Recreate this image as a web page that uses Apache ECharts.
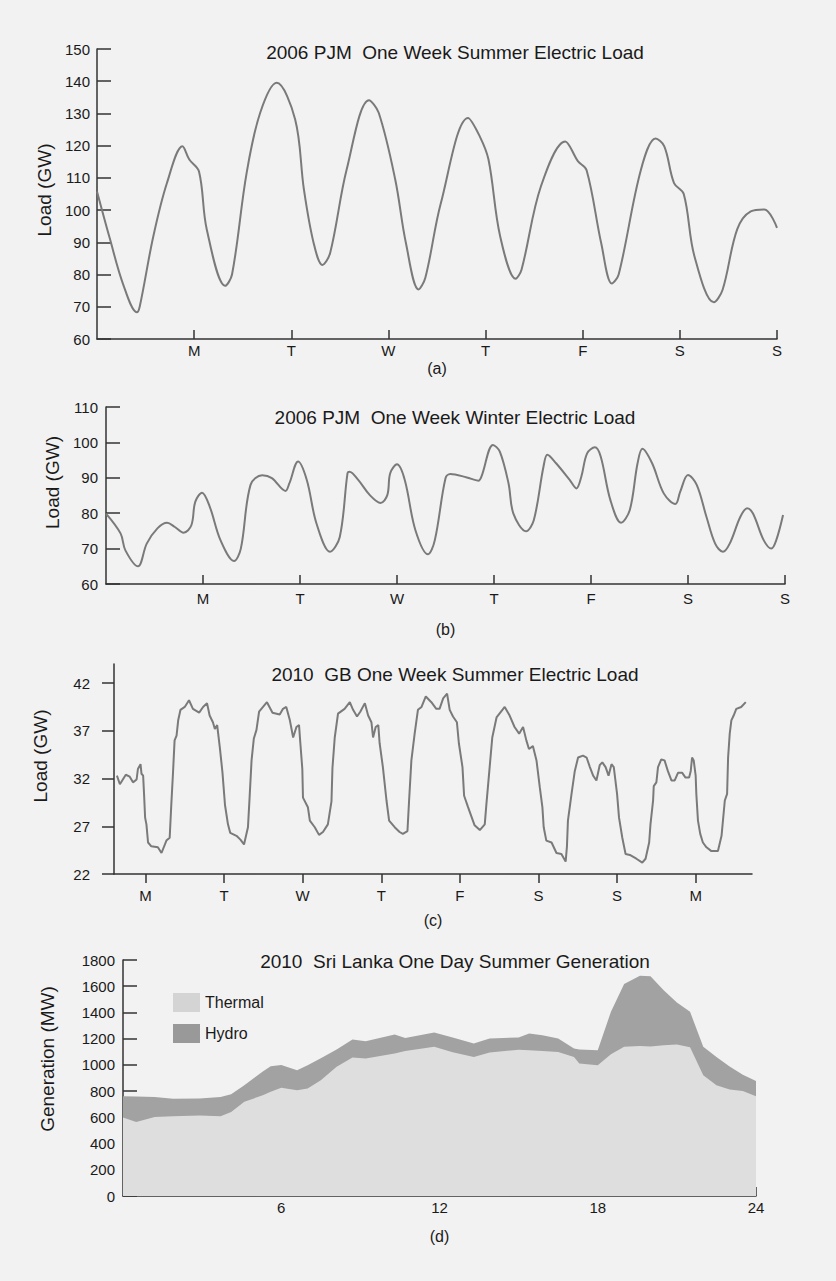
<!DOCTYPE html>
<html>
<head>
<meta charset="utf-8">
<script src="https://cdn.jsdelivr.net/npm/echarts@6/dist/echarts.min.js"></script>
<style>
  html, body { margin: 0; padding: 0; background: #f2f2f2; }
  #main { width: 836px; height: 1281px; }
</style>
</head>
<body>
<div id="main"></div>
<script>
// (a) 2006 PJM summer week, x in days from Sunday 0h
var summerDay = [0.00, 0.13, 0.27, 0.41, 0.44, 0.58, 0.72, 0.88, 0.95, 1.05, 1.13, 1.32, 1.39, 1.54, 1.68, 1.85,
  2.04, 2.13, 2.23, 2.32, 2.40, 2.57, 2.80, 2.90, 3.07, 3.18, 3.31, 3.38, 3.54, 3.82, 3.94, 4.03, 4.15, 4.31,
  4.37, 4.57, 4.82, 4.95, 5.04, 5.19, 5.30, 5.37, 5.60, 5.75, 5.84, 5.94, 6.04, 6.15, 6.35, 6.44, 6.59, 6.73, 6.87, 7.00];
var summerLoad = [105.8, 91.4, 76.9, 68.3, 70.1, 91.9, 108.4, 119.8, 115.7, 112, 94, 76.5, 80, 111.5, 130.2, 139.5,
  128.1, 106.4, 89.8, 83, 86.7, 112.6, 134.1, 130.2, 109.5, 89.8, 75.4, 79, 102.2, 128.6, 122.9, 115.7, 91.9, 78.7,
  81.5, 107.4, 121.3, 115.2, 112.4, 89.8, 77.2, 80, 112.6, 122.2, 119.8, 108.4, 105, 85.7, 71.4, 75.3, 94, 99.6, 100.2, 94.5];

// (b) 2006 PJM winter week
var winterDay = [0.00, 0.15, 0.20, 0.33, 0.42, 0.53, 0.63, 0.71, 0.80, 0.88, 0.92, 0.99, 1.07, 1.18, 1.32, 1.39,
  1.49, 1.61, 1.71, 1.85, 1.89, 1.98, 2.07, 2.17, 2.31, 2.41, 2.49, 2.51, 2.60, 2.72, 2.83, 2.90, 2.93, 3.00,
  3.08, 3.19, 3.32, 3.39, 3.50, 3.55, 3.72, 3.84, 3.87, 3.99, 4.06, 4.15, 4.20, 4.33, 4.41, 4.51, 4.55, 4.64,
  4.78, 4.85, 4.90, 4.96, 5.04, 5.10, 5.20, 5.31, 5.40, 5.48, 5.53, 5.63, 5.75, 5.87, 5.92, 6.00, 6.09, 6.19,
  6.28, 6.36, 6.43, 6.54, 6.61, 6.67, 6.78, 6.86, 6.91, 6.98];
var winterLoad = [79.9, 74.3, 69.5, 65.0, 71.4, 75.7, 77.3, 76.1, 74.5, 76.6, 83.2, 85.8, 81.8, 72.4, 66.5, 70.0,
  88.0, 90.7, 89.9, 86.3, 88.4, 94.6, 89.4, 77.1, 69.1, 73.3, 91.3, 91.7, 89.4, 85.1, 82.9, 85.1, 91.3, 93.8,
  89.4, 75.2, 68.4, 72.4, 89.9, 91.1, 90.1, 89.2, 90.3, 99.3, 97.4, 88.4, 79.9, 74.9, 78.0, 93.1, 96.5, 94.1,
  89.4, 87.0, 90.3, 96.9, 98.6, 96.0, 83.7, 77.3, 80.9, 94.1, 98.2, 94.1, 85.6, 82.6, 86.1, 90.8, 88.0, 79.0,
  71.4, 69.1, 71.4, 79.0, 81.4, 79.9, 72.4, 70.0, 72.4, 79.5];

// (c) 2010 GB summer week, x in hours from Monday 0h
var gbHour = [-8.7, -7.8, -6.0, -4.8, -3.8, -2.7, -2.3, -1.5, -1.2, -0.7, -0.4, -0.1, 0.3, 0.8, 1.8, 3.8, 4.9, 6.4,
  7.4, 7.9, 8.4, 8.9, 9.5, 10.0, 10.7, 12.0, 13.3, 14.5, 16.4, 17.6, 18.8, 19.6, 20.6, 21.2, 21.9, 22.7, 23.5,
  24.3, 25.2, 25.9, 27.8, 29.0, 30.1, 31.3, 31.8, 32.4, 33.1, 33.9, 34.7, 35.9, 37.1, 38.8, 41.0, 42.0, 43.0,
  44.1, 45.1, 46.1, 46.9, 47.3, 47.9, 48.1, 49.6, 50.2, 51.7, 53.0, 54.2, 55.7, 56.8, 57.1, 57.8, 58.8, 60.8,
  62.4, 63.4, 64.6, 65.6, 67.0, 68.0, 69.0, 69.5, 70.3, 71.1, 71.5, 72.5, 73.6, 74.4, 76.1, 77.6, 78.6, 80.0,
  80.5, 81.2, 82.2, 83.2, 84.3, 85.6, 87.3, 88.8, 89.8, 90.9, 92.1, 92.9, 93.9, 95.1, 95.7, 96.8, 97.3, 98.5,
  100.5, 102.1, 103.6, 104.1, 105.1, 105.9, 107.2, 109.7, 111.2, 112.7, 114.1, 115.3, 116.3, 117.1, 118.3,
  119.4, 120.4, 121.2, 121.6, 122.4, 124.0, 125.5, 127.0, 128.3, 128.7, 129.0, 130.1, 131.1, 132.1, 133.6,
  134.7, 135.7, 136.7, 137.7, 138.7, 139.5, 140.5, 141.4, 142.3, 143.0, 144.0, 144.6, 145.6, 146.6, 147.9,
  149.9, 151.7, 152.7, 153.8, 154.2, 155.0, 155.2, 156.0, 156.5, 157.5, 158.5, 159.5, 160.6, 161.6, 162.6,
  163.9, 164.9, 166.0, 166.5, 166.9, 167.4, 168.0, 168.2, 168.7, 169.4, 170.2, 171.3, 172.8, 174.8, 175.9,
  176.9, 177.6, 177.9, 178.4, 178.9, 179.6, 180.4, 181.9, 183.3];
var gbLoad = [32.3, 31.4, 32.4, 32.2, 31.6, 31.9, 33.0, 33.5, 32.5, 32.3, 30.2, 27.9, 27.2, 25.3, 24.9, 24.8, 24.2, 25.5,
  25.8, 29.3, 32.5, 36.0, 36.5, 38.1, 39.2, 39.5, 40.2, 39.3, 38.9, 39.5, 39.9, 38.6, 37.9, 37.2, 37.6, 35.3, 32.7,
  29.2, 27.2, 26.3, 26.0, 25.6, 25.1, 26.9, 30.0, 33.9, 36.2, 37.1, 39.0, 39.5, 40.0, 38.9, 38.7, 39.3, 39.5,
  38.1, 36.3, 37.4, 37.6, 35.7, 33.0, 30.0, 29.0, 27.6, 26.9, 26.1, 26.4, 27.2, 29.6, 33.1, 36.3, 38.8, 39.3,
  40.0, 39.2, 38.5, 39.0, 39.9, 38.6, 37.9, 36.3, 37.4, 37.6, 35.7, 33.2, 29.7, 27.6, 26.9, 26.4, 26.2, 26.5,
  29.7, 33.9, 36.7, 39.2, 39.5, 40.6, 40.0, 39.3, 39.3, 40.4, 40.9, 39.2, 38.5, 37.9, 35.7, 33.2, 30.2, 29.0,
  27.1, 26.6, 27.2, 29.3, 33.2, 36.3, 38.4, 39.5, 38.6, 37.4, 36.7, 37.4, 36.0, 35.1, 35.4,
  33.9, 31.1, 29.0, 26.9, 25.5, 25.3, 24.2, 24.1, 23.3, 24.9, 27.6, 30.4, 32.8, 34.2, 34.4,
  34.2, 33.2, 32.3, 31.8, 33.4, 33.7, 33.2, 32.3, 33.5, 33.2, 30.4, 27.9, 25.8, 24.1, 24.0,
  23.6, 23.2, 23.6, 25.3, 27.2, 29.7, 31.2, 31.6, 33.2, 34.0, 33.9, 32.8, 31.8, 31.8, 32.6,
  32.6, 32.1, 32.1, 32.8, 34.2, 33.9, 32.3, 30.4, 27.6, 26.2, 25.3, 24.8, 24.4, 24.4, 26.0,
  29.7, 30.4, 34.2, 36.7, 38.1, 38.6, 39.3, 39.5, 40.0];

// (d) 2010 Sri Lanka one day, hours
var slHour = [0, 0.5, 1.2, 1.9, 2.9, 3.7, 4.1, 4.6, 5.3, 5.6, 6.0, 6.6, 7.0, 7.5, 8.1, 8.7, 9.2, 10.3, 10.7, 11.8,
  12.5, 13.3, 13.9, 15.0, 15.4, 15.9, 16.5, 17.1, 17.3, 18.0, 18.5, 19.0, 19.6, 20.0, 20.5, 21.0, 21.5, 22.0,
  22.5, 23.0, 23.5, 24.0];
var thermalMW = [598, 565, 603, 608, 614, 608, 641, 718, 769, 795, 825, 807, 820, 883, 985, 1056, 1049, 1087, 1105, 1138,
  1097, 1061, 1095, 1115, 1112, 1105, 1099, 1061, 1011, 998, 1082, 1138, 1145, 1140, 1150, 1156, 1135, 921,
  845, 812, 800, 761];
// top edge of the hydro band (thermal + hydro)
var hydroTopMW = [761, 758, 756, 741, 743, 756, 776, 845, 950, 990, 1000, 960, 998, 1050, 1118, 1194, 1181, 1232, 1206, 1247,
  1209, 1163, 1201, 1209, 1240, 1227, 1201, 1125, 1118, 1112, 1405, 1616, 1679, 1677, 1570, 1476, 1405, 1138,
  1061, 987, 925, 878];

var weekTicks = ['M', 'T', 'W', 'T', 'F', 'S', 'S'];
var gbTicks = ['M', 'T', 'W', 'T', 'F', 'S', 'S', 'M'];
var titles = ['2006 PJM  One Week Summer Electric Load', '2006 PJM  One Week Winter Electric Load',
  '2010  GB One Week Summer Electric Load', '2010  Sri Lanka One Day Summer Generation'];

function pairs(xs, ys) {
  return xs.map(function (x, i) { return [x, ys[i]]; });
}

var FONT = 'Liberation Sans, Arial, Helvetica, sans-serif';
var INK = '#1a1a1a';
var LINE = '#7a7a7a';

var chart = echarts.init(document.getElementById('main'), null, { renderer: 'svg' });

function xAx(idx, o) {
  return {
    gridIndex: idx, type: 'value', min: o.min, max: o.max,
    axisLine: { onZero: false, lineStyle: { color: '#333', width: 1.5 } },
    axisTick: { customValues: o.ticks, inside: o.inside, length: 9, lineStyle: { color: '#333', width: 1.5 } },
    axisLabel: { customValues: o.ticks, formatter: o.fmt, margin: o.margin, fontSize: 15, color: INK, fontFamily: FONT },
    splitLine: { show: false },
    name: o.name, nameLocation: 'middle', nameGap: o.nameGap,
    nameTextStyle: { fontSize: 16, color: INK, fontFamily: FONT }
  };
}
function yAx(idx, o) {
  var ax = {
    gridIndex: idx, type: 'value', min: o.min, max: o.max,
    axisLine: { show: true, onZero: false, lineStyle: { color: '#333', width: 1.5 } },
    axisTick: { show: true, inside: o.inside, length: o.tickLen, lineStyle: { color: '#333', width: 1.5 } },
    axisLabel: { margin: o.margin, fontSize: 15, color: INK, fontFamily: FONT,
      formatter: function (v) { return String(v); } },
    splitLine: { show: false },
    name: o.name, nameLocation: 'middle', nameGap: o.nameGap,
    nameTextStyle: { fontSize: 19, color: INK, fontFamily: FONT, padding: [0, 0, 0, o.shift] }
  };
  if (o.interval) ax.interval = o.interval;
  if (o.ticks) { ax.axisTick.customValues = o.ticks; ax.axisLabel.customValues = o.ticks; }
  return ax;
}

var option = {
  backgroundColor: '#f2f2f2',
  animation: false,
  textStyle: { fontFamily: FONT },
  grid: [
    { left: 97, top: 49, width: 680, height: 290, outerBoundsMode: 'none' },
    { left: 106, top: 407, width: 679, height: 177, outerBoundsMode: 'none' },
    { left: 114, top: 664, width: 638, height: 210, outerBoundsMode: 'none' },
    { left: 123, top: 960, width: 633, height: 236, outerBoundsMode: 'none' }
  ],
  xAxis: [
    xAx(0, { min: 0, max: 7, ticks: [1, 2, 3, 4, 5, 6, 7], inside: true, margin: 4, name: '(a)', nameGap: 21,
      fmt: function (v) { return weekTicks[Math.round(v) - 1]; } }),
    xAx(1, { min: 0, max: 7, ticks: [1, 2, 3, 4, 5, 6, 7], inside: true, margin: 7, name: '(b)', nameGap: 37,
      fmt: function (v) { return weekTicks[Math.round(v) - 1]; } }),
    xAx(2, { min: -9.6, max: 185.2, ticks: [0, 24, 48, 72, 96, 120, 144, 168], inside: false, margin: 14, name: '(c)', nameGap: 38,
      fmt: function (v) { return gbTicks[Math.round(v / 24)]; } }),
    xAx(3, { min: 0, max: 24, ticks: [6, 12, 18, 24], inside: true, margin: 4, name: '(d)', nameGap: 32,
      fmt: function (v) { return String(v); } })
  ],
  yAxis: [
    yAx(0, { min: 60, max: 150, interval: 10, inside: true, tickLen: 14, margin: 7, name: 'Load (GW)', nameGap: 40, shift: 8 }),
    yAx(1, { min: 60, max: 110, interval: 10, inside: true, tickLen: 14, margin: 8, name: 'Load (GW)', nameGap: 43, shift: 26 }),
    yAx(2, { min: 22, max: 44, ticks: [22, 27, 32, 37, 42], inside: false, tickLen: 12, margin: 24, name: 'Load (GW)', nameGap: 64, shift: 26 }),
    yAx(3, { min: 0, max: 1800, interval: 200, inside: true, tickLen: 14, margin: 8, name: 'Generation (MW)', nameGap: 66, shift: 38 })
  ],
  legend: {
    left: 168, top: 988, orient: 'vertical', icon: 'rect', itemWidth: 27, itemHeight: 19, itemGap: 12,
    selectedMode: false,
    textStyle: { fontSize: 16, color: INK, fontFamily: FONT },
    data: [
      { name: 'Thermal', itemStyle: { color: '#d4d4d4' } },
      { name: 'Hydro', itemStyle: { color: '#999999' } }
    ]
  },
  graphic: titles.map(function (t, i) {
    return {
      type: 'text', x: 455, y: [52, 417, 674, 961][i], z: 100,
      style: { text: t, fontSize: 19, fontFamily: FONT, fill: INK, textAlign: 'center', textVerticalAlign: 'middle', align: 'center', verticalAlign: 'middle' }
    };
  }),
  series: [
    { type: 'line', xAxisIndex: 0, yAxisIndex: 0, data: pairs(summerDay, summerLoad), smooth: 0.35, symbol: 'none',
      lineStyle: { color: LINE, width: 2 } },
    { type: 'line', xAxisIndex: 1, yAxisIndex: 1, data: pairs(winterDay, winterLoad), smooth: 0.35, symbol: 'none',
      lineStyle: { color: LINE, width: 2 } },
    { type: 'line', xAxisIndex: 2, yAxisIndex: 2, data: pairs(gbHour, gbLoad), symbol: 'none',
      lineStyle: { color: LINE, width: 2 } },
    { name: 'Hydro', type: 'line', xAxisIndex: 3, yAxisIndex: 3, data: pairs(slHour, hydroTopMW), symbol: 'none',
      itemStyle: { color: '#999999' }, lineStyle: { width: 0 }, areaStyle: { color: '#a2a2a2', opacity: 1 }, z: 2 },
    { name: 'Thermal', type: 'line', xAxisIndex: 3, yAxisIndex: 3, data: pairs(slHour, thermalMW), symbol: 'none',
      itemStyle: { color: '#d4d4d4' }, lineStyle: { width: 0 }, areaStyle: { color: '#dedede', opacity: 1 }, z: 3 }
  ]
};
chart.setOption(option);
</script>
</body>
</html>
